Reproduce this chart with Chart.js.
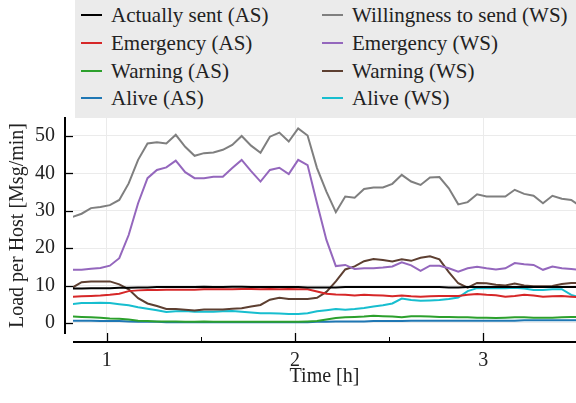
<!DOCTYPE html>
<html>
<head>
<meta charset="utf-8">
<script src="https://cdn.jsdelivr.net/npm/chart.js@4.4.1/dist/chart.umd.min.js"></script>
<style>
  html, body { margin: 0; padding: 0; background: #ffffff; }
  #wrap { position: relative; width: 576px; height: 403px; overflow: hidden; }
  #c { position: absolute; left: 0; top: 0; }
  #legend { position: absolute; left: 75px; top: 0; width: 501px; height: 118px; background: #ebebeb;
            font-family: "Liberation Serif", "DejaVu Serif", serif; font-size: 21px; color: #222; }
  .li { position: absolute; height: 28px; line-height: 28px; white-space: nowrap; }
  .sw { position: absolute; top: 13px; width: 21px; height: 2px; }
  .tx { position: absolute; left: 30px; top: 0; }
</style>
</head>
<body>
<div id="wrap">
  <canvas id="c" width="576" height="403"></canvas>
  <div id="legend"></div>
</div>
<script>
// Time axis: minutes (converted to hours)
const minutes = [49,52,55,58,61,64,67,70,73,76,79,82,85,88,91,94,97,100,103,106,109,112,115,118,121,124,127,130,133,136,139,142,145,148,151,154,157,160,163,166,169,172,175,178,181,184,187,190,193,196,199,202,205,208,211];
const timeHours = minutes.map(m => m / 60);

const actuallySentAS = [9.2,9.2,9.3,9.3,9.3,9.4,9.4,9.5,9.5,9.6,9.6,9.6,9.6,9.6,9.7,9.6,9.6,9.7,9.7,9.6,9.6,9.6,9.6,9.6,9.6,9.5,9.5,9.5,9.5,9.6,9.6,9.6,9.6,9.6,9.6,9.6,9.6,9.6,9.6,9.6,9.5,9.5,9.6,9.6,9.6,9.6,9.6,9.6,9.6,9.6,9.6,9.6,9.6,9.6,9.6];
const emergencyAS = [7.0,7.1,7.2,7.3,7.5,7.8,8.5,8.7,8.8,8.8,8.9,8.9,8.9,8.9,9.0,9.0,9.0,9.0,9.1,9.1,9.0,9.1,9.0,9.1,9.0,9.0,8.4,7.8,7.6,7.5,7.3,7.5,7.4,7.3,7.1,7.3,7.1,7.0,7.1,7.2,7.2,7.2,7.5,7.7,7.5,7.4,7.0,7.2,7.5,7.3,7.0,7.1,7.2,7.0,6.8];
const warningAS = [1.7,1.6,1.5,1.4,1.2,1.1,0.9,0.6,0.5,0.4,0.4,0.4,0.3,0.3,0.4,0.3,0.3,0.3,0.3,0.3,0.3,0.3,0.3,0.3,0.3,0.4,0.5,0.9,1.3,1.5,1.6,1.7,1.9,1.8,1.7,1.5,1.8,1.8,1.7,1.6,1.6,1.5,1.5,1.4,1.4,1.3,1.4,1.5,1.5,1.4,1.4,1.4,1.5,1.6,1.6];
const aliveAS = [0.6,0.6,0.6,0.5,0.5,0.5,0.4,0.3,0.3,0.3,0.2,0.2,0.2,0.2,0.2,0.2,0.2,0.2,0.2,0.2,0.2,0.2,0.2,0.2,0.2,0.2,0.3,0.3,0.4,0.4,0.4,0.4,0.5,0.5,0.5,0.5,0.6,0.6,0.6,0.6,0.6,0.6,0.6,0.6,0.6,0.6,0.6,0.6,0.7,0.7,0.7,0.7,0.7,0.7,0.7];
const willingnessWS = [28.3,29.2,30.7,31.0,31.5,32.9,37.3,43.6,48.0,48.3,48.0,50.3,47.1,44.7,45.4,45.6,46.3,47.6,50.0,47.4,45.5,49.8,50.9,48.5,52.0,50.1,41.4,35.1,29.6,33.8,33.5,35.8,36.2,36.2,37.2,39.6,37.8,36.9,38.9,39.0,36.0,31.7,32.3,34.4,33.8,33.8,33.8,35.6,34.5,34.0,32.0,34.0,33.2,32.9,31.1];
const emergencyWS = [14.2,14.2,14.5,14.7,15.3,17.3,23.5,32.0,38.7,40.9,41.6,43.4,40.3,38.7,38.7,39.1,39.1,41.4,43.6,40.6,37.8,40.9,41.5,39.8,43.6,42.2,32.0,22.2,15.2,15.5,14.4,14.6,14.6,14.8,15.1,16.2,15.4,13.9,15.3,15.3,14.6,13.7,14.6,15.0,14.6,14.3,14.6,16.0,15.7,15.5,14.2,15.1,14.6,14.4,14.2];
const warningWS = [9.4,10.9,11.1,11.1,11.1,10.3,9.0,6.6,5.2,4.5,3.7,3.7,3.5,3.3,3.6,3.6,3.6,3.8,3.9,4.4,4.8,6.2,6.7,6.4,6.4,6.4,6.7,8.3,11.1,14.3,15.1,16.5,17.1,16.8,16.4,17.0,16.6,17.4,17.8,17.0,13.6,10.6,9.4,10.7,10.6,10.2,10.0,10.5,10.0,9.8,9.8,9.9,10.4,10.7,10.6];
const aliveWS = [5.0,5.3,5.3,5.4,5.3,5.0,4.7,4.2,3.8,3.4,2.9,3.1,3.2,3.0,3.0,3.0,3.1,3.2,3.0,2.8,2.6,2.6,2.5,2.4,2.4,2.6,3.1,3.4,3.7,3.5,3.7,4.0,4.4,4.7,5.2,6.5,6.1,5.9,6.0,6.1,6.4,6.8,8.5,9.3,9.3,9.3,9.3,9.4,9.2,8.8,8.8,9.0,9.0,7.5,6.8];

const yTickValues = [0, 10, 20, 30, 40, 50];
const xTickValues = [1, 2, 3];
const xMinorTickValues = [1.5, 2.5];

const seriesNames = ["Actually sent (AS)", "Willingness to send (WS)", "Emergency (AS)", "Emergency (WS)",
                     "Warning (AS)", "Warning (WS)", "Alive (AS)", "Alive (WS)"];
const seriesValues = [actuallySentAS, willingnessWS, emergencyAS, emergencyWS, warningAS, warningWS, aliveAS, aliveWS];
const seriesColors = ["#000000", "#7f7f7f", "#d62728", "#9467bd", "#2ca02c", "#5d3f31", "#1f77b4", "#17becf"];
// draw order (later = on top)
const drawOrder = [6, 4, 7, 5, 2, 0, 3, 1];

const FONT = "'Liberation Serif', 'DejaVu Serif', serif";
const AREA = { left: 73, right: 576, top: 118, bottom: 333 };
const PAD_BOTTOM = 14;

const datasets = seriesNames.map((name, i) => ({
  label: name,
  data: timeHours.map((t, k) => ({ x: t, y: seriesValues[i][k] })),
  borderColor: seriesColors[i],
  backgroundColor: seriesColors[i],
  borderWidth: 2,
  pointRadius: 0,
  tension: 0,
  order: drawOrder.length - drawOrder.indexOf(i)
}));

const spinePlugin = {
  id: 'spines',
  afterDraw(chart) {
    const ctx = chart.ctx;
    const xs = chart.scales.x, ys = chart.scales.y;
    ctx.save();
    ctx.strokeStyle = '#000';
    ctx.lineCap = 'butt';
    // y spine (offset)
    ctx.lineWidth = 2;
    ctx.beginPath();
    ctx.moveTo(65, 117); ctx.lineTo(65, 334);
    ctx.stroke();
    ctx.lineWidth = 1.3;
    yTickValues.forEach(v => {
      const y = Math.round(ys.getPixelForValue(v)) + 0.5;
      ctx.beginPath(); ctx.moveTo(65, y); ctx.lineTo(73, y); ctx.stroke();
    });
    // x spine (offset)
    ctx.lineWidth = 2;
    ctx.beginPath();
    ctx.moveTo(73, 342); ctx.lineTo(576, 342);
    ctx.stroke();
    ctx.lineWidth = 1.3;
    xTickValues.forEach(v => {
      const x = Math.round(xs.getPixelForValue(v)) + 0.5;
      ctx.beginPath(); ctx.moveTo(x, 342); ctx.lineTo(x, 333); ctx.stroke();
    });
    ctx.lineWidth = 1;
    xMinorTickValues.forEach(v => {
      const x = Math.round(xs.getPixelForValue(v)) + 0.5;
      ctx.beginPath(); ctx.moveTo(x, 342); ctx.lineTo(x, 337); ctx.stroke();
    });
    ctx.restore();
  }
};

const chart = new Chart(document.getElementById('c'), {
  type: 'line',
  data: { datasets },
  options: {
    responsive: false,
    animation: false,
    layout: { padding: { left: 0, right: 0, top: AREA.top, bottom: PAD_BOTTOM } },
    plugins: { legend: { display: false }, tooltip: { enabled: false } },
    scales: {
      x: {
        type: 'linear',
        min: 0.821, max: 3.492,
        afterBuildTicks: s => { s.ticks = xTickValues.map(v => ({ value: v })); },
        afterFit: s => { s.height = 403 - PAD_BOTTOM - AREA.bottom; },
        grid: { color: '#ebebeb', lineWidth: 1, drawTicks: false },
        border: { display: false },
        ticks: { color: '#222', font: { family: FONT, size: 20 }, padding: 16, maxRotation: 0,
                 callback: v => String(v) },
        title: { display: true, text: 'Time [h]', color: '#222', font: { family: FONT, size: 20 }, padding: { top: 0, bottom: 0 } }
      },
      y: {
        min: -2.7, max: 54.8,
        afterBuildTicks: s => { s.ticks = yTickValues.map(v => ({ value: v })); },
        afterFit: s => { s.width = AREA.left; },
        grid: { color: '#ebebeb', lineWidth: 1, drawTicks: false },
        border: { display: false },
        ticks: { color: '#222', font: { family: FONT, size: 20 }, padding: 18, callback: v => String(v) },
        title: { display: true, text: 'Load per Host [Msg/min]', color: '#222', font: { family: FONT, size: 20 }, padding: { top: 6, bottom: 0 } }
      }
    }
  },
  plugins: [spinePlugin]
});

// HTML legend built from the chart's datasets (two columns)
const legendEl = document.getElementById('legend');
chart.data.datasets.forEach((ds, i) => {
  const col = i % 2, row = Math.floor(i / 2);
  const item = document.createElement('div');
  item.className = 'li';
  item.style.left = (col === 0 ? 6 : 247) + 'px';
  item.style.top = (1 + row * 27.8) + 'px';
  const sw = document.createElement('span');
  sw.className = 'sw';
  sw.style.left = '0px';
  sw.style.background = ds.borderColor;
  const tx = document.createElement('span');
  tx.className = 'tx';
  tx.textContent = ds.label;
  item.appendChild(sw); item.appendChild(tx);
  legendEl.appendChild(item);
});
</script>
</body>
</html>
